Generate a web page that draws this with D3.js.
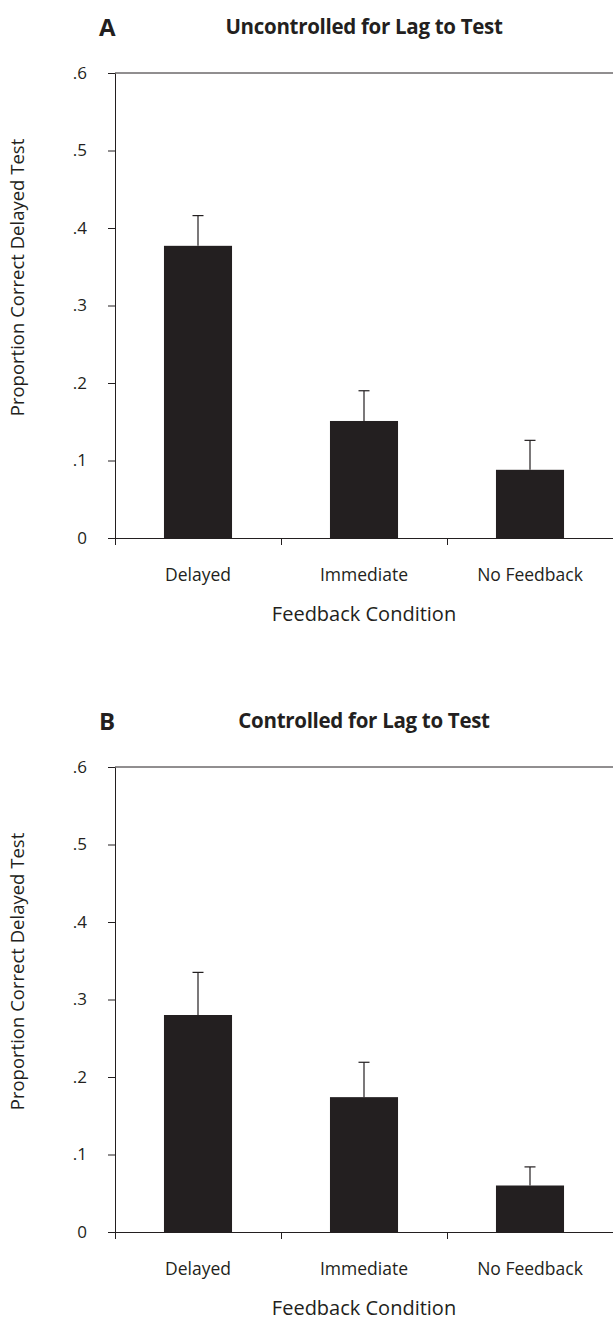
<!DOCTYPE html>
<html>
<head>
<meta charset="utf-8">
<script src="https://cdn.jsdelivr.net/npm/d3@7"></script>
<style>
  body { margin: 0; background: #fff; }
  svg text { font-family: "Open Sans", "Noto Sans", sans-serif; fill: #231f20; }
</style>
</head>
<body>
<div id="chart"></div>
<script>
// data
var conditions = ["Delayed", "Immediate", "No Feedback"];
var uncontrolledMeans = [0.377, 0.151, 0.088];
var uncontrolledErrors = [0.039, 0.039, 0.038];
var controlledMeans = [0.28, 0.174, 0.06];
var controlledErrors = [0.055, 0.045, 0.024];
var yTicks = [0, 0.1, 0.2, 0.3, 0.4, 0.5, 0.6];
var yTickLabels = ["0", ".1", ".2", ".3", ".4", ".5", ".6"];
var panelLetters = ["A", "B"];
var panelTitles = ["Uncontrolled for Lag to Test", "Controlled for Lag to Test"];

var ink = "#231f20";
var svg = d3.select("#chart")
  .append("svg")
  .attr("width", 613)
  .attr("height", 1322);

function drawPanel(top, letter, title, means, errors) {
  var margin = { top: 73, left: 115 }, width = 498, height = 465;

  var g = svg.append("g")
    .attr("transform", "translate(" + margin.left + "," + (top + margin.top) + ")");

  var y = d3.scaleLinear().domain([0, 0.6]).range([height, 0]);
  var x = d3.scaleBand()
    .domain(conditions)
    .range([0, width])
    .paddingInner(0.59)
    .paddingOuter(0.295);
  // boundaries between categories, for the x tick marks
  var xEdge = d3.scaleLinear().domain([0, conditions.length]).range([0, width]);

  // y axis
  var yAxis = g.append("g")
    .call(d3.axisLeft(y)
      .tickValues(yTicks)
      .tickFormat(function (d, i) { return yTickLabels[i]; })
      .tickSize(7)
      .tickSizeOuter(0)
      .tickPadding(21));
  yAxis.selectAll("path, line").attr("stroke", ink);
  yAxis.selectAll("text")
    .attr("font-size", 17)
    .attr("font-family", "'Open Sans', sans-serif")
    .attr("fill", ink);

  // top border line
  g.append("line")
    .attr("x1", 0).attr("x2", width)
    .attr("y1", y(0.6)).attr("y2", y(0.6))
    .attr("stroke", ink);

  // x axis line and category boundary ticks
  var xAxis = g.append("g")
    .attr("transform", "translate(0," + height + ")")
    .call(d3.axisBottom(xEdge)
      .tickValues([0, 1, 2, 3])
      .tickFormat("")
      .tickSize(7)
      .tickSizeOuter(0));
  xAxis.selectAll("path, line").attr("stroke", ink);

  // category labels
  var xLabels = g.append("g")
    .attr("transform", "translate(0," + height + ")")
    .call(d3.axisBottom(x).tickSize(0).tickPadding(31));
  xLabels.select(".domain").remove();
  xLabels.selectAll("text")
    .attr("font-size", 17.5)
    .attr("font-family", "'Open Sans', sans-serif")
    .attr("fill", ink);

  // bars
  g.selectAll("rect.bar")
    .data(means)
    .enter()
    .append("rect")
    .attr("class", "bar")
    .attr("x", function (d, i) { return x(conditions[i]); })
    .attr("y", function (d) { return y(d); })
    .attr("width", x.bandwidth())
    .attr("height", function (d) { return height - y(d); })
    .attr("fill", ink);

  // error bars (upper half only)
  var capHalf = 5.5;
  var err = g.selectAll("g.err")
    .data(means)
    .enter()
    .append("g")
    .attr("class", "err")
    .attr("stroke", ink)
    .attr("stroke-width", 1.2);
  err.append("line")
    .attr("x1", function (d, i) { return x(conditions[i]) + x.bandwidth() / 2; })
    .attr("x2", function (d, i) { return x(conditions[i]) + x.bandwidth() / 2; })
    .attr("y1", function (d) { return y(d); })
    .attr("y2", function (d, i) { return y(d + errors[i]); });
  err.append("line")
    .attr("x1", function (d, i) { return x(conditions[i]) + x.bandwidth() / 2 - capHalf; })
    .attr("x2", function (d, i) { return x(conditions[i]) + x.bandwidth() / 2 + capHalf; })
    .attr("y1", function (d, i) { return y(d + errors[i]); })
    .attr("y2", function (d, i) { return y(d + errors[i]); });

  // axis titles
  g.append("text")
    .attr("transform", "translate(-91," + (height / 2 - 28) + ") rotate(-90)")
    .attr("text-anchor", "middle")
    .attr("font-size", 18.5)
    .text("Proportion Correct Delayed Test");

  g.append("text")
    .attr("x", width / 2)
    .attr("y", height + 83)
    .attr("text-anchor", "middle")
    .attr("font-size", 20)
    .text("Feedback Condition");

  // panel letter and title
  svg.append("text")
    .attr("x", 99)
    .attr("y", top + 36)
    .attr("font-size", 24)
    .attr("font-weight", "bold")
    .text(letter);

  svg.append("text")
    .attr("x", margin.left + width / 2)
    .attr("y", top + 34)
    .attr("text-anchor", "middle")
    .attr("font-size", 20.5)
    .attr("font-weight", "bold")
    .attr("letter-spacing", -0.3)
    .text(title);
}

drawPanel(0, panelLetters[0], panelTitles[0], uncontrolledMeans, uncontrolledErrors);
drawPanel(694, panelLetters[1], panelTitles[1], controlledMeans, controlledErrors);
</script>
</body>
</html>
